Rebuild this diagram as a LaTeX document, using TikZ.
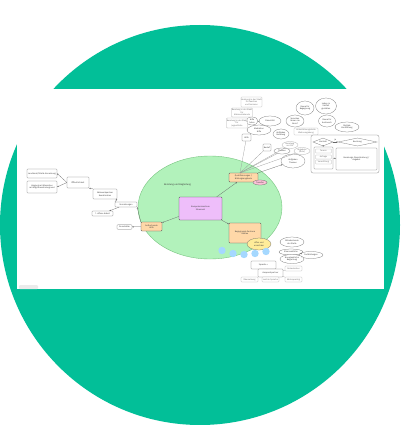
\documentclass[tikz,border=0pt]{standalone}
\usepackage{fontspec}
\setmainfont{Fira Sans}
\usetikzlibrary{arrows.meta,shapes.geometric}
\definecolor{tealbg}{RGB}{2,191,152}
\definecolor{zonefill}{RGB}{178,242,187}
\definecolor{zoneline}{RGB}{120,196,128}
\definecolor{kernfill}{RGB}{238,190,250}
\definecolor{orangefill}{RGB}{255,216,168}
\definecolor{yellowfill}{RGB}{255,236,153}
\definecolor{pinkfill}{RGB}{252,194,215}
\definecolor{bluefill}{RGB}{165,216,255}
\begin{document}
\begin{tikzpicture}[x=1pt, y=-1pt,
                    every node/.style={align=center, inner sep=0.3pt, text=black!75,
                                       font=\fontsize{2.1}{2.5}\selectfont},
                    box/.style={draw=black!55, line width=0.25pt, rounded corners=0.8pt, fill=white},
                    greybox/.style={box, draw=black!30, text=black!55},
                    bubble/.style={ellipse, draw=black!55, line width=0.25pt, fill=white},
                    hotbox/.style={box, fill=orangefill, draw=black!70, line width=0.35pt},
                    link/.style={-{Stealth[length=1.6pt, width=1.3pt]}, line width=0.25pt, black!60},
                    plain/.style={line width=0.25pt, black!40}]
      \useasboundingbox (0, 0) rectangle (400, 425);
      \fill[white] (0, 0) rectangle (400, 425);
      \fill[tealbg] (200, 225) circle [radius=200pt];
      \fill[white] (17, 89) rectangle (384, 289);
      \fill[black!8, rounded corners=1pt] (19, 285) rectangle (38, 289);
      \draw[fill=zonefill, draw=zoneline, line width=0.4pt] (210, 207.5) ellipse [x radius=72pt, y radius=51.5pt];
      \node (zone_label) at (177.5, 185) {\fontsize{2.4}{2.8}\selectfont Beratung und Begleitung};
      % Kern und Hauptzweige
      \node[box, fill=kernfill, draw=black!70, line width=0.4pt, minimum width=43pt, minimum height=23pt] (kern) at (200.5, 208.5) {Kompetenzzentrum\\ Ehrenamt};
      \node[hotbox, minimum width=29pt, minimum height=9pt] (qualifizierung) at (243.5, 177.5) {Qualifizierungen /\\ Bildungsangebote};
      \node[ellipse, draw=black!60, fill=pinkfill, line width=0.25pt, minimum width=14pt, minimum height=5pt] (transfer) at (260, 182.5) {Transfer};
      \node[hotbox, minimum width=32pt, minimum height=20pt] (begegnung) at (245, 233) {Begegnungs-Zentrum\\ Räume};
      \node[ellipse, draw=black!60, fill=yellowfill, line width=0.25pt, minimum width=24pt, minimum height=12pt] (offen) at (259, 244) {offen und\\ erreichbar};
      \node[hotbox, minimum width=21pt, minimum height=9pt] (aufsuchend) at (151.5, 226.5) {Aufsuchende\\ Hilfe};
      \foreach \cx/\cy in {222/250.5, 233/253.5, 244/254.5, 255/253.5, 266/251.5}
        \fill[bluefill] (\cx, \cy) circle [radius=3.7pt];
      \draw[link] (kern) -- (qualifizierung);
      \draw[link] (kern) -- (begegnung);
      \draw[link] (kern) -- (aufsuchend);
      % linker Zweig
      \node[box, minimum width=15pt, minimum height=4.5pt] (grundsaetze) at (124.5, 227) {Grundsätze};
      \node[box, minimum width=22pt, minimum height=5pt] (vernetzung) at (126, 204.5) {Vernetzungen};
      \node[box, minimum width=21pt, minimum height=5pt] (offene_arbeit) at (102.5, 213.5) {1. offene Arbeit};
      \node[box, minimum width=24pt, minimum height=10pt] (netzwerk) at (105, 194) {Netzwerkpartner\\ Koordination};
      \node[box, minimum width=22pt, minimum height=11pt] (oeffentlich) at (78, 182.5) {Öffentlichkeit};
      \node[box, minimum width=30pt, minimum height=9pt] (landkreis) at (42, 173.5) {Landkreis/Städte Vernetzung};
      \node[box, minimum width=30pt, minimum height=12pt] (umgang) at (42, 187) {Umgang mit Menschen\\ mit Migrationshintergrund};
      \draw[link] (aufsuchend) -- (grundsaetze);
      \draw[link] (aufsuchend.north west) -- (vernetzung.south east);
      \draw[link] (vernetzung) -- (offene_arbeit);
      \draw[link] (vernetzung.north west) -- (netzwerk.south east);
      \draw[link] (netzwerk.north west) -- (oeffentlich.south east);
      \draw[link] (oeffentlich.west) -- (landkreis.east);
      \draw[link] (oeffentlich.west) -- (umgang.east);
      % oben rechts
      \coordinate (qual_top) at (240, 173);
      \node[box, minimum width=9pt, minimum height=7pt] (hilfe) at (246.5, 137.5) {Hilfe};
      \node[box, minimum width=8pt, minimum height=7pt] (bedarf) at (267, 147.5) {Bedarf};
      \node[bubble, draw=black!35, text=black!55, minimum width=16pt, minimum height=7pt] (vor_ort) at (290, 145) {Beratung\\ vor Ort};
      \node[bubble, minimum width=16pt, minimum height=6pt] (themen) at (282, 151) {Themen};
      \node[bubble, draw=black!35, text=black!55, minimum width=16pt, minimum height=7pt] (orte) at (302, 151) {Angebote\\ (Orte)};
      \node[bubble, minimum width=24pt, minimum height=14pt] (aufgaben) at (293, 161) {Aufgaben\\ Themen};
      \node[bubble, minimum width=24pt, minimum height=10pt] (mediation) at (259, 130) {Mediation\\ Hilfe};
      \node[bubble, minimum width=22pt, minimum height=10pt] (diversitaet) at (270, 121) {Diversität};
      \node[bubble, minimum width=12pt, minimum height=8pt] (holen) at (252, 121) {Hilfe\\ holen};
      \node[bubble, minimum width=16pt, minimum height=10pt] (aufg_beratung) at (281, 134) {Aufgaben\\ Beratung};
      \node[greybox, minimum width=21pt, minimum height=10pt] (stadt_a) at (251.5, 102) {Beratung in der Stadt\\ für Familien\\ und Senioren};
      \node[greybox, minimum width=20pt, minimum height=9pt] (stadt_b) at (242, 112.5) {Beratung in der Stadt\\ für\\ Alleinerziehende};
      \node[greybox, minimum width=20pt, minimum height=10pt] (stadt_c) at (237, 123) {Beratung in der Stadt\\ für\\ Jugendliche};
      \node[bubble, minimum width=18pt, minimum height=14pt] (raum_begegnung) at (305, 108) {Raum für\\ Begegnung};
      \node[bubble, minimum width=21pt, minimum height=16pt] (vielfalt) at (326, 106) {Leben in\\ Vielfalt\\ gestalten};
      \node[bubble, minimum width=18pt, minimum height=12pt] (sprachen) at (295, 121) {Sprachen\\ lernen im\\ Beruf};
      \node[bubble, minimum width=17pt, minimum height=12pt] (austausch) at (327, 121) {Raum für\\ Austausch};
      \node[bubble, minimum width=24pt, minimum height=10pt] (digital) at (347, 127) {Digitale\\ Vermittlung};
      \node[greybox, minimum width=24pt, minimum height=7pt] (wohnumgebung) at (306, 131.5) {Unterstützungsstelle\\ Wohnumgebung};
      \draw[plain] (qual_top) -- (hilfe);
      \draw[plain] (qual_top) -- (bedarf);
      \draw[plain] (qual_top) -- (themen);
      \draw[plain] (qual_top) -- (vor_ort);
      \draw[plain] (qual_top) -- (orte);
      \draw[link] (qualifizierung.north east) -- (aufgaben);
      \draw[plain] (holen) -- (diversitaet);
      \draw[plain] (holen) -- (mediation);
      \draw[plain] (holen) -- (stadt_c);
      % Ablauf
      \node[box, rounded corners=2pt, minimum width=68pt, minimum height=38pt] (ablauf) at (345, 154) {};
      \node[diamond, draw=black!55, line width=0.25pt, fill=white, aspect=2.5, minimum width=20pt, minimum height=8pt] (kontakt) at (323, 142) {Kontakt};
      \node[diamond, draw=black!55, line width=0.25pt, fill=white, aspect=5, minimum width=39pt, minimum height=8pt] (beratung) at (357.5, 142) {Beratung};
      \node[box, minimum width=19pt, minimum height=22pt] (schritte) at (323.5, 158) {};
      \node[greybox, minimum width=16pt, minimum height=4pt] (termin) at (323.5, 151) {Termin};
      \node[greybox, minimum width=16pt, minimum height=4pt] (anfrage) at (323.5, 157) {Anfrage};
      \node[greybox, minimum width=16pt, minimum height=4pt] (vermittlung) at (323.5, 162) {Vermittlung};
      \node[box, minimum width=41pt, minimum height=22pt] (dienstleistung) at (356.5, 159) {Beratungs-Dienstleistung /\\ Angebot};
      \draw[link] (kontakt) -- node[above, inner sep=0.6pt] {ja} (beratung);
      \draw[link] (kontakt) -- (schritte);
      \draw[link] (schritte) -- (dienstleistung);
      % unten rechts
      \node[bubble, minimum width=24pt, minimum height=10pt] (mitarbeitende) at (292, 242) {Mitarbeitende\\ der Stelle};
      \node[bubble, minimum width=24pt, minimum height=6pt] (ehrenamtliche) at (291, 252) {Ehrenamtliche};
      \node[bubble, minimum width=24pt, minimum height=7pt] (fortbildung) at (311, 255) {Fortbildungen};
      \node[bubble, minimum width=24pt, minimum height=9pt] (hauptamt) at (292, 259) {Hauptamtliche\\ Begleitung};
      \node[box, minimum width=25pt, minimum height=8pt] (sprache) at (263.5, 265) {Sprache +};
      \node[box, minimum width=25pt, minimum height=8pt] (ansprech) at (270.5, 273) {Ansprechpartner};
      \node[greybox, minimum width=17pt, minimum height=5pt] (dolmetschen) at (293.5, 268.5) {Dolmetschen};
      \node[greybox, minimum width=17pt, minimum height=5pt] (uebersetzung) at (249.5, 279.5) {Übersetzung};
      \node[greybox, minimum width=17pt, minimum height=5pt] (leicht) at (270.5, 279.5) {Leichte Sprache};
      \node[greybox, minimum width=17pt, minimum height=5pt] (mehrsprachig) at (293.5, 279.5) {Mehrsprachig};
      \draw[link] (ehrenamtliche) -- (fortbildung);
      \draw[plain] (hauptamt) -- (fortbildung);
      \draw[plain] (sprache) -- (ansprech);
      \draw[plain] (ansprech) -- (dolmetschen);
      \draw[plain] (ansprech) -- (uebersetzung);
      \draw[plain] (ansprech) -- (mehrsprachig);
    \end{tikzpicture}
\end{document}
